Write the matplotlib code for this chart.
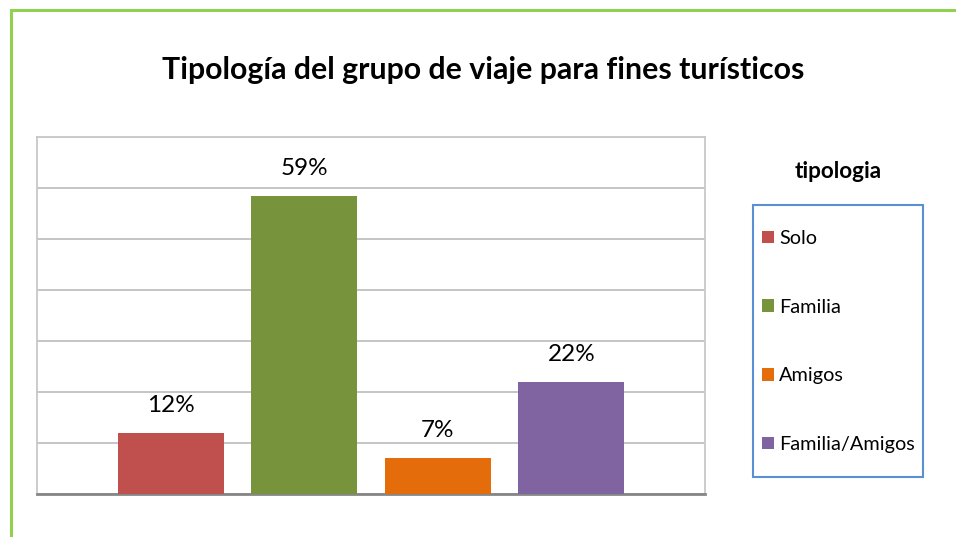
import matplotlib.pyplot as plt
from matplotlib.patches import Patch, Rectangle

plt.rcParams["font.family"] = ["Lato", "DejaVu Sans"]

title = "Tipología del grupo de viaje para fines turísticos"
legend_title = "tipologia"
categories = ["Solo", "Familia", "Amigos", "Familia/Amigos"]
shares = [0.12, 0.585, 0.07, 0.22]
share_labels = ["12%", "59%", "7%", "22%"]
colors = ["#C0504D", "#77933C", "#E46C0A", "#8064A2"]

W, H = 956, 537
fig = plt.figure(figsize=(W / 100, H / 100), dpi=100)

# green frame of the chart object (runs off the right and bottom edges)
fig.patches.append(
    Rectangle((11 / W, -0.1), 1.2, 1 - 10 / H + 0.1, transform=fig.transFigure,
              fill=False, edgecolor="#92D050", linewidth=2.2)
)

ax = fig.add_axes([37 / W, 1 - 494 / H, 668 / W, 357 / H])
positions = list(range(len(categories)))
bars = ax.bar(positions, shares, width=0.793, color=colors, zorder=3)

for rect, lab in zip(bars, share_labels):
    ax.annotate(lab, (rect.get_x() + rect.get_width() / 2, rect.get_height()),
                xytext=(0, 17), textcoords="offset pixels",
                ha="center", va="bottom", fontsize=17.5)

ax.set_xlim(-1.0, 4.0)
ax.set_ylim(0, 0.7)
ax.set_yticks([i / 10 for i in range(8)])
ax.set_xticks([])
ax.tick_params(left=False, labelleft=False)
ax.grid(axis="y", color="#C0C0C0", linewidth=1.3, zorder=0)
for side in ["left", "right", "top"]:
    ax.spines[side].set_color("#C8C8C8")
    ax.spines[side].set_linewidth(1.3)
ax.spines["bottom"].set_color("#868686")
ax.spines["bottom"].set_linewidth(2)

fig.text(483 / W, 1 - 70 / H, title, ha="center", va="center",
         fontsize=21.8, fontweight="bold")
fig.text(838 / W, 1 - 172 / H, legend_title, ha="center", va="center",
         fontsize=16.2, fontweight="bold")

# legend box drawn separately: the padding is wider at top than at the sides
fig.patches.append(
    Rectangle((753 / W, 1 - 477 / H), 170 / W, 272 / H, transform=fig.transFigure,
              fill=False, edgecolor="#5B8FD4", linewidth=1.5)
)
handles = [Patch(facecolor=c, edgecolor="none") for c in colors]
leg = fig.legend(handles, categories, loc="upper left",
                 bbox_to_anchor=(762 / W, 1 - 230 / H), borderaxespad=0,
                 borderpad=0, frameon=False, fontsize=14.3,
                 handlelength=0.6, handleheight=0.6, handletextpad=0.25,
                 labelspacing=2.6)

fig.savefig("out.png", dpi=100)
